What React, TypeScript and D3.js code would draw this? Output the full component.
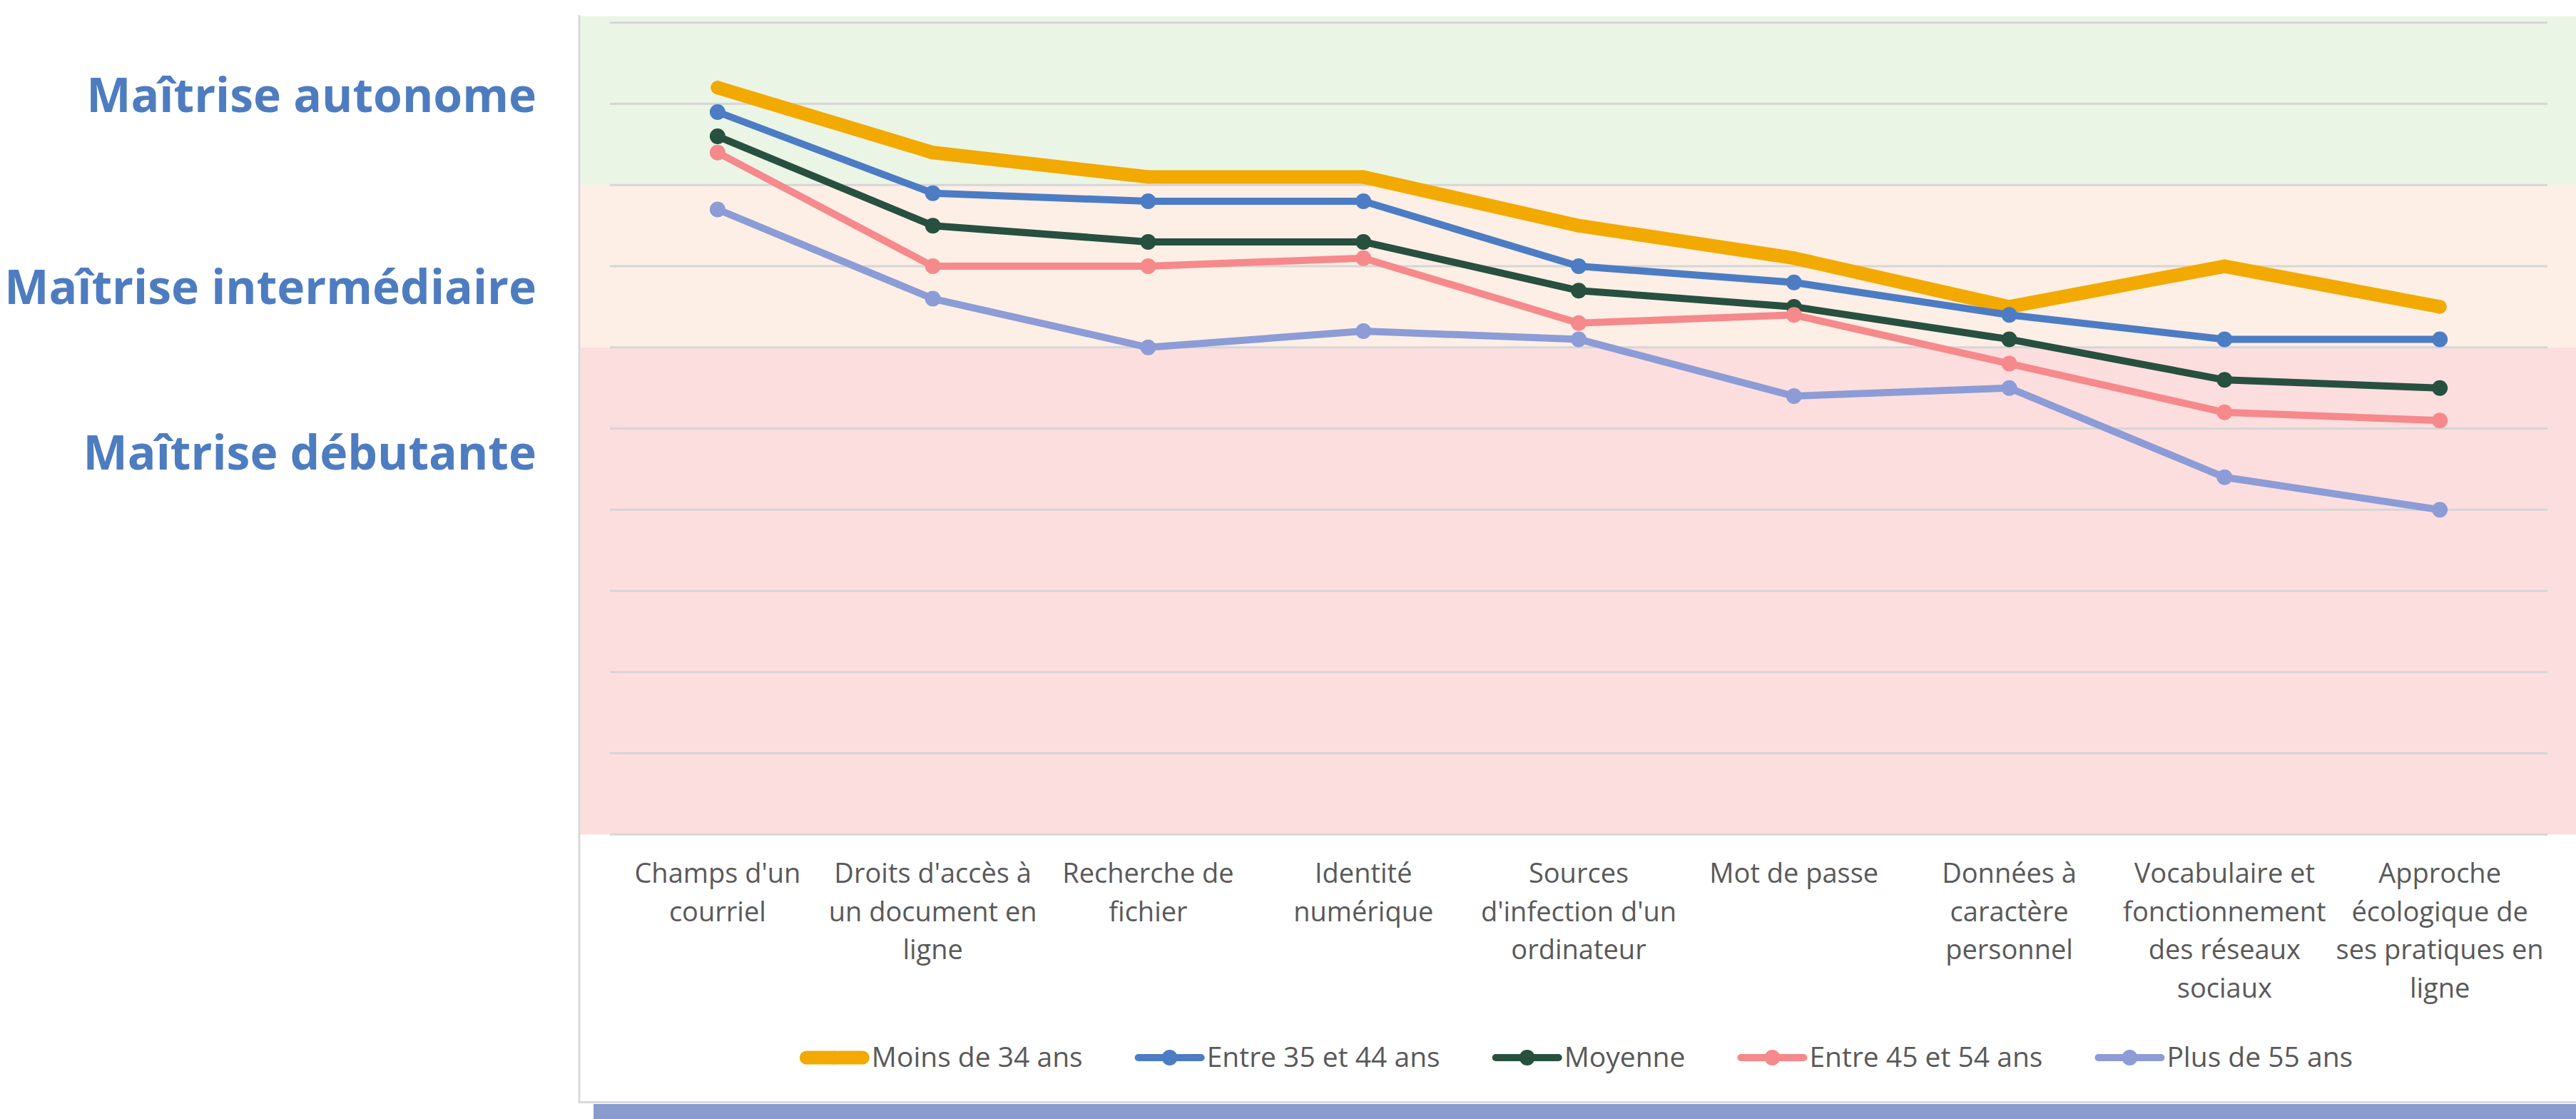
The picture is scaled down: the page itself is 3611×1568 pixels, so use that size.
import * as d3 from "d3";
import { useMemo } from "react";

const categories = [
  "Champs d'un courriel",
  "Droits d'accès à un document en ligne",
  "Recherche de fichier",
  "Identité numérique",
  "Sources d'infection d'un ordinateur",
  "Mot de passe",
  "Données à caractère personnel",
  "Vocabulaire et fonctionnement des réseaux sociaux",
  "Approche écologique de ses pratiques en ligne",
];

// découpage des libellés comme dans l'original
const categoryLines = [
  ["Champs d'un", "courriel"],
  ["Droits d'accès à", "un document en", "ligne"],
  ["Recherche de", "fichier"],
  ["Identité", "numérique"],
  ["Sources", "d'infection d'un", "ordinateur"],
  ["Mot de passe"],
  ["Données à", "caractère", "personnel"],
  ["Vocabulaire et", "fonctionnement", "des réseaux", "sociaux"],
  ["Approche", "écologique de", "ses pratiques en", "ligne"],
];

const seriesNames = [
  "Moins de 34 ans",
  "Entre 35 et 44 ans",
  "Moyenne",
  "Entre 45 et 54 ans",
  "Plus de 55 ans",
];

const moins34 = [9.2, 8.4, 8.1, 8.1, 7.5, 7.1, 6.5, 7.0, 6.5];
const entre35_44 = [8.9, 7.9, 7.8, 7.8, 7.0, 6.8, 6.4, 6.1, 6.1];
const moyenne = [8.6, 7.5, 7.3, 7.3, 6.7, 6.5, 6.1, 5.6, 5.5];
const entre45_54 = [8.4, 7.0, 7.0, 7.1, 6.3, 6.4, 5.8, 5.2, 5.1];
const plus55 = [7.7, 6.6, 6.0, 6.2, 6.1, 5.4, 5.5, 4.4, 4.0];

const yTicks = [0, 1, 2, 3, 4, 5, 6, 7, 8, 9, 10];

const levelLabels = ["Maîtrise autonome", "Maîtrise intermédiaire", "Maîtrise débutante"];
// bornes des zones de fond : débutante, intermédiaire, autonome
const bandBreaks = [0, 6, 8, 10.08];

const W = 3611;
const H = 1568;
const FONT = "'Open Sans', 'DejaVu Sans', sans-serif";

const colors = ["#F2A900", "#4C7CC4", "#27503F", "#F6898B", "#8C9CD6"];
const widths = [19, 10, 10, 10, 10];
const bandColors = ["#FDDEDF", "#FDEFE5", "#EBF5E6"];

export default function App() {
  const series = [moins34, entre35_44, moyenne, entre45_54, plus55];

  const margin = { left: 855, right: W - 3571, top: 31.8, bottom: H - 1169.3 };

  const x = d3
    .scalePoint<string>()
    .domain(categories)
    .range([margin.left, W - margin.right])
    .padding(0.5);

  const y = d3
    .scaleLinear()
    .domain([0, 10])
    .range([H - margin.bottom, margin.top]);

  const makeLine = d3
    .line<number>()
    .x((_, i) => x(categories[i]) as number)
    .y((d) => y(d));

  // largeur des textes de légende pour centrer la légende
  const legendItems = useMemo(() => {
    const ctx = document.createElement("canvas").getContext("2d");
    let widthsText = seriesNames.map((n) => n.length * 20);
    if (ctx) {
      ctx.font = "39px 'Open Sans'";
      widthsText = seriesNames.map((n) => ctx.measureText(n).width);
    }
    const icon = 98;
    const gap = 72;
    const total =
      d3.sum(widthsText) + seriesNames.length * (icon + 4) + gap * (seriesNames.length - 1);
    let cx = (margin.left + W - margin.right) / 2 - total / 2 - 3;
    return seriesNames.map((n, i) => {
      const item = { name: n, x: cx, tw: widthsText[i] };
      cx += icon + 4 + widthsText[i] + gap;
      return item;
    });
  }, []);

  const levelY = [157, 426, 658];

  return (
    <svg
      width={W}
      height={H}
      style={{ position: "absolute", left: 0, top: 0, display: "block", background: "#fff" }}
      fontFamily={FONT}
    >
      {/* zones de fond */}
      {bandColors.map((c, i) => (
        <rect
          key={c}
          x={813}
          y={y(bandBreaks[i + 1])}
          width={W - 813}
          height={y(bandBreaks[i]) - y(bandBreaks[i + 1])}
          fill={c}
        />
      ))}

      {/* cadre du graphique */}
      <line x1={812} y1={21} x2={812} y2={1545} stroke="#D9D9D9" strokeWidth={3} />
      <line x1={811} y1={1544.5} x2={W} y2={1544.5} stroke="#D9D9D9" strokeWidth={3} />
      <rect x={832} y={1547} width={W - 832} height={H - 1547} fill="#8A9BCE" />

      {/* grille */}
      {yTicks.map((t) => (
        <line
          key={t}
          x1={margin.left}
          x2={W - margin.right}
          y1={y(t)}
          y2={y(t)}
          stroke="#D6D6D6"
          strokeWidth={3}
        />
      ))}

      {/* séries */}
      {series.map((s, k) => (
        <g key={seriesNames[k]}>
          <path
            d={makeLine(s) ?? ""}
            fill="none"
            stroke={colors[k]}
            strokeWidth={widths[k]}
            strokeLinejoin="round"
            strokeLinecap="round"
          />
          {s.map((v, i) => (
            <circle
              key={i}
              cx={x(categories[i])}
              cy={y(v)}
              r={k === 0 ? 9.5 : 11}
              fill={colors[k]}
            />
          ))}
        </g>
      ))}

      {/* libellés des catégories */}
      {categories.map((c, i) => (
        <text
          key={c}
          x={x(c)}
          y={1237}
          textAnchor="middle"
          fontSize={38}
          fill="#595959"
        >
          {categoryLines[i].map((l, j) => (
            <tspan key={j} x={x(c)} dy={j === 0 ? 0 : 53.5}>
              {l}
            </tspan>
          ))}
        </text>
      ))}

      {/* légende */}
      {legendItems.map((it, k) => (
        <g key={it.name}>
          <line
            x1={it.x + widths[k] / 2}
            x2={it.x + 98 - widths[k] / 2}
            y1={1482}
            y2={1482}
            stroke={colors[k]}
            strokeWidth={widths[k]}
            strokeLinecap="round"
          />
          <circle cx={it.x + 49} cy={1482} r={k === 0 ? 9.5 : 11} fill={colors[k]} />
          <text x={it.x + 101} y={1495} fontSize={39} fill="#595959">
            {it.name}
          </text>
        </g>
      ))}

      {/* niveaux de maîtrise */}
      {levelLabels.map((l, i) => (
        <text
          key={l}
          x={752}
          y={levelY[i]}
          textAnchor="end"
          fontSize={66}
          fontWeight={700}
          fill="#4E7CC0"
        >
          {l}
        </text>
      ))}
    </svg>
  );
}
